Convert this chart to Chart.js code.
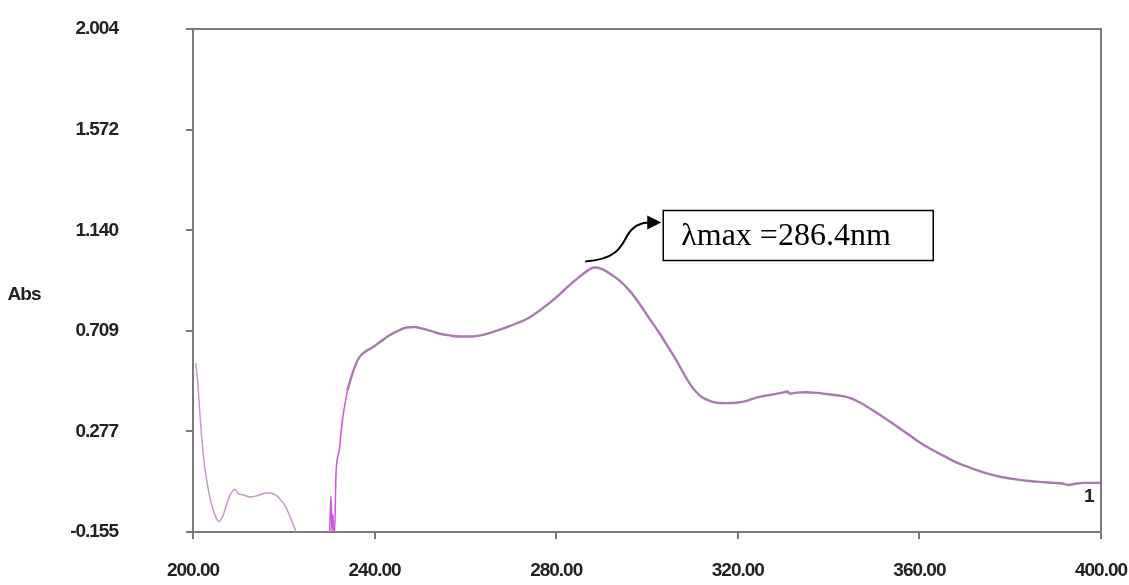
<!DOCTYPE html>
<html>
<head>
<meta charset="utf-8">
<script src="https://cdn.jsdelivr.net/npm/chart.js@4"></script>
<style>
  body { margin: 0; background: #fff; }
  #wrap { width: 1129px; height: 585px; }
</style>
</head>
<body>
<div id="wrap"><canvas id="spectrum" width="1129" height="585"></canvas></div>
<script>
"use strict";

// tick labels
const xTicks = [200, 240, 280, 320, 360, 400];
const yTicks = [-0.155, 0.277, 0.709, 1.140, 1.572, 2.004];

// spectrum pieces: [wavelength nm, Abs]
const lowRegion = [
    [200.6, 0.57], [201.0, 0.50], [201.6, 0.33], [202.3, 0.17], [203.0, 0.07],
    [204.0, -0.03], [205.0, -0.09], [205.7, -0.11], [206.5, -0.09], [207.5, -0.03],
    [208.5, 0.015], [209.3, 0.028], [210.0, 0.01], [211.0, 0.005], [212.5, -0.005],
    [214.0, 0.0], [215.5, 0.01], [216.5, 0.012], [217.8, 0.008], [219.0, -0.01],
    [220.5, -0.05], [221.8, -0.11], [222.7, -0.155]
];
const noiseSpike = [
    [230.1, -0.155], [230.4, 0.0], [230.6, -0.155], [230.8, -0.08], [231.0, -0.155],
    [231.2, -0.155], [231.5, 0.095], [232.2, 0.194], [232.9, 0.323], [234.0, 0.452]
];
const mainBand = [
    [234.0, 0.452], [235.2, 0.53], [236.6, 0.594], [238.0, 0.62], [239.5, 0.637],
    [241.5, 0.665], [243.2, 0.688], [245.0, 0.707], [247.0, 0.723], [248.8, 0.725],
    [250.5, 0.718], [252.5, 0.707], [254.2, 0.697], [256.5, 0.689], [258.7, 0.684],
    [261.0, 0.684], [263.0, 0.688], [266.0, 0.703], [269.0, 0.723], [271.5, 0.742],
    [274.1, 0.766], [277.0, 0.805], [280.0, 0.852], [282.5, 0.897], [285.1, 0.94],
    [287.0, 0.968], [288.4, 0.98], [290.0, 0.974], [291.7, 0.956], [293.9, 0.925],
    [296.1, 0.882], [298.3, 0.826], [300.5, 0.762], [302.8, 0.697], [304.7, 0.637],
    [306.5, 0.581], [308.0, 0.528], [309.4, 0.482], [310.8, 0.447], [312.2, 0.422],
    [313.8, 0.408], [315.3, 0.400], [317.5, 0.398], [319.7, 0.400], [322.0, 0.408],
    [324.1, 0.422], [327.0, 0.433], [329.9, 0.443], [331.0, 0.448], [331.4, 0.439],
    [333.0, 0.443], [335.0, 0.445], [337.4, 0.442], [340.0, 0.436], [342.5, 0.430],
    [344.8, 0.420], [347.0, 0.400], [349.2, 0.374], [352.5, 0.332], [355.8, 0.288],
    [358.0, 0.258], [360.2, 0.228], [363.0, 0.196], [366.1, 0.164], [368.5, 0.141],
    [371.2, 0.121], [374.5, 0.099], [377.8, 0.082], [380.8, 0.072], [383.8, 0.065],
    [386.5, 0.060], [389.5, 0.056], [391.5, 0.053], [392.8, 0.047], [394.3, 0.052],
    [396.1, 0.056], [400.0, 0.056]
];

const lambdaMax = 286.4;
const peakLabel = 'λmax =286.4nm';
const traceLabel = '1';

const toXY = (arr) => arr.map(p => ({ x: p[0], y: p[1] }));

const axisColor = '#7a7a7a';
const labelFont = '"Liberation Sans", Arial, sans-serif';

// tighten the axis lettering a bit, the original uses a narrow face
const narrowText = {
    id: 'narrowText',
    beforeDraw(chart) {
        chart.ctx.letterSpacing = '-1px';
    }
};

// box around plot, "Abs", peak callout, trace number
const extras = {
    id: 'extras',
    afterDraw(chart) {
        const { ctx, chartArea: a, scales } = chart;
        ctx.save();
        ctx.strokeStyle = axisColor;
        ctx.lineWidth = 2;
        ctx.beginPath();
        ctx.moveTo(a.left - 6, a.top);
        ctx.lineTo(a.right, a.top);
        ctx.lineTo(a.right, a.bottom);
        ctx.stroke();

        ctx.fillStyle = '#222';
        ctx.font = 'bold 19px ' + labelFont;
        ctx.textAlign = 'center';
        ctx.textBaseline = 'middle';
        ctx.fillText('Abs', 24, 295);
        ctx.fillText(traceLabel, scales.x.getPixelForValue(397.3), scales.y.getPixelForValue(-0.004));

        // peak callout
        ctx.letterSpacing = '0px';
        const sx = scales.x.getPixelForValue(lambdaMax);
        const sy = scales.y.getPixelForValue(1.006);
        const bx = sx + 78, by = sy - 51, bw = 270, bh = 50;
        ctx.strokeStyle = '#000';
        ctx.lineWidth = 1.5;
        ctx.strokeRect(bx, by, bw, bh);
        ctx.fillStyle = '#000';
        ctx.font = '32px "Liberation Serif", "DejaVu Serif", serif';
        ctx.textAlign = 'left';
        ctx.textBaseline = 'middle';
        ctx.fillText(peakLabel, bx + 18, by + bh / 2 + 1);

        const tipX = bx - 2, tipY = by + 12;
        ctx.lineWidth = 2;
        ctx.beginPath();
        ctx.moveTo(sx, sy);
        ctx.bezierCurveTo(sx + 30, sy - 2, sx + 36, sy - 14, sx + 42, sy - 26);
        ctx.bezierCurveTo(sx + 48, sy - 36, sx + 56, tipY, tipX - 12, tipY);
        ctx.stroke();
        ctx.beginPath();
        ctx.moveTo(tipX, tipY);
        ctx.lineTo(tipX - 14, tipY - 7);
        ctx.lineTo(tipX - 14, tipY + 7);
        ctx.closePath();
        ctx.fill();
        ctx.restore();
    }
};

const ctx = document.getElementById('spectrum');

new Chart(ctx, {
    type: 'line',
    data: {
        datasets: [{
            data: toXY(lowRegion),
            borderColor: '#c59ac8',
            borderWidth: 1.5
        }, {
            data: toXY(noiseSpike),
            borderColor: '#cf55dc',
            borderWidth: 1.5
        }, {
            data: toXY(mainBand),
            borderColor: '#a97aaf',
            borderWidth: 2.4
        }]
    },
    options: {
        responsive: false,
        animation: false,
        layout: { padding: { top: 29, right: 28, left: 0, bottom: 0 } },
        elements: {
            point: { radius: 0 },
            line: { cubicInterpolationMode: 'monotone' }
        },
        plugins: {
            legend: { display: false },
            tooltip: { enabled: false }
        },
        scales: {
            x: {
                type: 'linear',
                min: 200,
                max: 400,
                afterBuildTicks: (scale) => { scale.ticks = xTicks.map(v => ({ value: v })); },
                afterFit: (scale) => {
                    scale.height = 53;
                    scale.paddingLeft = 0;
                    scale.paddingRight = 0;
                },
                ticks: {
                    padding: 20,
                    maxRotation: 0,
                    color: '#222',
                    font: { family: labelFont, size: 19, weight: 'bold' },
                    callback: (v) => Number(v).toFixed(2)
                },
                grid: { drawOnChartArea: false, drawTicks: true, tickLength: 7, color: axisColor, lineWidth: 2 },
                border: { display: true, color: axisColor, width: 2 }
            },
            y: {
                type: 'linear',
                min: -0.155,
                max: 2.004,
                afterBuildTicks: (scale) => { scale.ticks = yTicks.map(v => ({ value: v })); },
                afterFit: (scale) => {
                    scale.width = 193;
                    scale.paddingTop = 0;
                    scale.paddingBottom = 0;
                },
                ticks: {
                    padding: 68,
                    color: '#222',
                    font: { family: labelFont, size: 19, weight: 'bold' },
                    callback: (v) => Number(v).toFixed(3)
                },
                grid: { drawOnChartArea: false, drawTicks: true, tickLength: 7, color: axisColor, lineWidth: 2 },
                border: { display: true, color: axisColor, width: 2 }
            }
        }
    },
    plugins: [narrowText, extras]
});
</script>
</body>
</html>
